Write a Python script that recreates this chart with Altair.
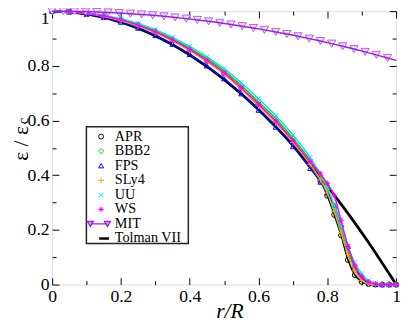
import altair as alt
import pandas as pd

# ---------------- data ----------------
xs = [0, .05, .1, .15, .2, .25, .3, .35, .4, .45, .5, .55, .6, .65, .7, .75,
      .78, .8, .82, .84, .86, .88, .9, .92, .94, .96, .98, 1.0]

apr  = [1, .998, .992, .981, .967, .947, .923, .893, .858, .818, .773, .718, .658, .596, .522, .440,
        .380, .325, .255, .180, .090, .035, .010, .002, 0, 0, 0, 0]
bbb2 = [1, .998, .993, .983, .970, .952, .928, .899, .865, .826, .782, .728, .668, .607, .535, .455,
        .397, .350, .280, .200, .120, .058, .020, .004, 0, 0, 0, 0]
fps  = [1, .997, .989, .977, .960, .938, .911, .879, .842, .800, .753, .698, .638, .576, .505, .425,
        .375, .335, .290, .220, .140, .068, .025, .006, .001, 0, 0, 0]
sly4 = [1, .998, .991, .980, .965, .945, .920, .890, .855, .815, .769, .714, .654, .592, .520, .440,
        .383, .335, .268, .190, .110, .050, .016, .003, 0, 0, 0, 0]
uu   = [1, .998, .993, .984, .972, .955, .932, .904, .871, .833, .790, .738, .680, .618, .547, .465,
        .405, .355, .290, .215, .140, .080, .040, .015, .004, 0, 0, 0]
ws   = [1, .998, .992, .982, .968, .949, .925, .895, .860, .820, .775, .720, .660, .598, .527, .450,
        .405, .370, .325, .235, .140, .070, .030, .010, .002, 0, 0, 0]

tolman = [1, .9975, .99, .9775, .96, .9375, .91, .8775, .84, .7975, .75, .6975, .64, .5775, .51, .4375,
          .3916, .36, .3276, .2944, .2604, .2256, .19, .1536, .1164, .0784, .0396, 0]

mit_x = [0, .0325, .065, .0975, .13, .1625, .195, .2275, .26, .2925, .325, .3575, .39, .4225, .455,
         .4875, .52, .5525, .585, .6175, .65, .6825, .715, .7475, .78, .8125, .845, .8775, .91,
         .9425, .975, 1.0]
mit_y = [1, .9998, .9992, .9983, .997, .9952, .9932, .9907, .9878, .9846, .981, .977, .9726, .9679,
         .9627, .9572, .9513, .9451, .9384, .9314, .924, .9162, .908, .8994, .8905, .8812, .8715,
         .8614, .8509, .8401, .8289, .82]

eos_names = ["APR", "BBB2", "FPS", "SLy4", "UU", "WS"]
eos_vals = [apr, bbb2, fps, sly4, uu, ws]
legend_labels = ["APR", "BBB2", "FPS", "SLy4", "UU", "WS", "MIT", "Tolman VII"]

major = [0, 0.2, 0.4, 0.6, 0.8, 1.0]
minor = [0.1, 0.3, 0.5, 0.7, 0.9]

# ---------------- styles ----------------
eos_colors = ["#000000", "#00d000", "#0000ff", "#ffa500", "#00e8e8", "#ff00ff"]
PLUS = "M-1,0H1M0,-1V1"
XSH = "M-1,-1L1,1M-1,1L1,-1"
STAR = "M-1,0H1M0,-1V1M-0.7,-0.7L0.7,0.7M-0.7,0.7L0.7,-0.7"
eos_shapes = ["circle", "diamond", "triangle-up", PLUS, XSH, STAR]
eos_sizes = [26, 28, 26, 36, 22, 30]
MIT_C = "#9a1ee8"
MIT_FILL = "#eedcfa"

W, H = 351, 279
FONT = "Liberation Serif, Times New Roman, Times, serif"
XS = alt.Scale(domain=[0, 1], nice=False, zero=False)
YS = alt.Scale(domain=[0, 1], nice=False, zero=False)

def enc(ax=None, ay=None):
    return dict(x=alt.X("x:Q", scale=XS, axis=ax), y=alt.Y("y:Q", scale=YS, axis=ay))

layers = []
tol_df = pd.DataFrame({"x": xs, "y": tolman})
layers.append(alt.Chart(tol_df).mark_line(color="black", strokeWidth=2.8).encode(**enc()))

for name, vals, c, shp, sz in zip(eos_names, eos_vals, eos_colors, eos_shapes, eos_sizes):
    d = pd.DataFrame({"x": xs, "y": vals})
    layers.append(alt.Chart(d).mark_line(color=c, strokeWidth=1.5, interpolate="monotone").encode(**enc()))
    layers.append(alt.Chart(d).mark_point(shape=shp, size=sz, color=c, filled=False,
                                          strokeWidth=1, opacity=1).encode(**enc()))

mit_df = pd.DataFrame({"x": mit_x, "y": mit_y})
layers.append(alt.Chart(mit_df).transform_filter("datum.x < 0.99").mark_point(
    shape="triangle-down", size=70, stroke="#b060e8", fill=MIT_FILL, strokeWidth=1, opacity=1
).encode(**enc()))
layers.append(alt.Chart(mit_df).mark_line(color=MIT_C, strokeWidth=1.5).encode(**enc()))

# labelled axes (no ticks)
lab_x = alt.Axis(orient="bottom", values=major, format="~g", ticks=False, domain=False, grid=False,
                 labelFont=FONT, labelFontSize=18, labelColor="black", labelPadding=3, labelFlush=False,
                 title="r/R", titleFont=FONT, titleFontSize=22, titleFontStyle="italic",
                 titleFontWeight="normal", titleColor="black", titlePadding=-4, titleX=181)
lab_y = alt.Axis(orient="left", values=major, format="~g", ticks=False, domain=False, grid=False,
                 labelFont=FONT, labelFontSize=18, labelColor="black", labelPadding=3,
                 labelFlush=False,
                 labelBaseline={"condition": {"test": "datum.value >= 0.99", "value": "top"},
                                "value": "middle"},
                 labelOffset={"condition": {"test": "datum.value >= 0.99", "value": -1},
                              "value": 0},
                 title=None)
layers.append(alt.Chart(tol_df).mark_point(opacity=0).encode(**enc(lab_x, lab_y)))

# inward ticks on all four sides
def tick_axis(orient, vals, size, off):
    return alt.Axis(orient=orient, offset=off, values=vals, tickSize=size, tickColor="black",
                    tickWidth=1, labels=False, domain=False, grid=False, title=None)

for xo, yo, vals, sz in [("top", "right", major, 7), ("bottom", "left", major, 7),
                         ("top", "right", minor, 4), ("bottom", "left", minor, 4)]:
    layers.append(alt.Chart(tol_df).mark_point(opacity=0).encode(
        **enc(tick_axis(xo, vals, sz, -H), tick_axis(yo, vals, sz, -W))))

main = alt.layer(*layers).resolve_axis(x="independent", y="independent")

# ---------------- legend ----------------
MIT_LEG = "M-14,-2.5L-8,-2.5L-11,2.5ZM3.5,-2.5L9.5,-2.5L6.5,2.5ZM-11,0H6.5"
TOL_LEG = "M-2,0H8"
leg_df = pd.DataFrame({
    "label": legend_labels,
    "row": list(range(8)),
    "shape": eos_shapes + [MIT_LEG, TOL_LEG],
    "size": eos_sizes + [4, 4],
    "stroke": eos_colors + [MIT_C, "black"],
    "fill": ["transparent"] * 6 + [MIT_FILL, "transparent"],
    "sw": [1] * 6 + [1.3, 2.5],
})
LY = alt.Y("row:Q", scale=alt.Scale(domain=[0, 7], range=[128, 232]), axis=None)
box = alt.Chart(pd.DataFrame({"a": [0]})).mark_rect(
    fill="white", stroke="#222222", strokeWidth=1.5
).encode(x=alt.value(35), x2=alt.value(139), y=alt.value(118), y2=alt.value(237))
sym = alt.Chart(leg_df).mark_point(opacity=1).encode(
    x=alt.value(50), y=LY,
    shape=alt.Shape("shape:N", scale=None),
    size=alt.Size("size:Q", scale=None),
    stroke=alt.Stroke("stroke:N", scale=None),
    fill=alt.Fill("fill:N", scale=None),
    strokeWidth=alt.StrokeWidth("sw:Q", scale=None),
)
txt = alt.Chart(leg_df).mark_text(align="left", baseline="middle", font=FONT, fontSize=14.5,
                                  color="black").encode(x=alt.value(64), y=LY, text="label:N")

# y title with subscript
one = pd.DataFrame({"a": [0]})
yt1 = alt.Chart(one).mark_text(text="ε / ε", angle=270, align="center", baseline="alphabetic",
                               font=FONT, fontSize=22, color="black").encode(
    x=alt.value(-25), y=alt.value(135))
yt2 = alt.Chart(one).mark_text(text="c", angle=270, align="center", baseline="alphabetic",
                               font=FONT, fontSize=15, color="black").encode(
    x=alt.value(-25), y=alt.value(112))

legend = alt.layer(box, sym, txt, yt1, yt2)

chart = alt.layer(main, legend).resolve_scale(y="independent").properties(
    width=W, height=H,
    autosize=alt.AutoSizeParams(type="none"),
    padding={"left": 45, "top": 0, "right": 5, "bottom": 36},
).configure_view(stroke="black", strokeWidth=2).configure(background="white")

chart.save("out.html", embed_options={"renderer": "svg", "actions": False})
